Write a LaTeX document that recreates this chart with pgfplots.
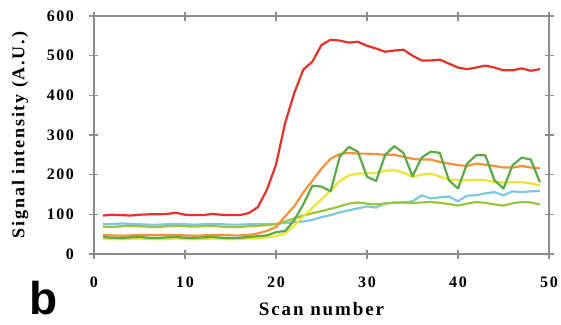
\documentclass[border=0pt]{standalone}
\usepackage{fontspec}
\setmainfont{Liberation Serif}
\newfontfamily\spaced[LetterSpace=10]{Liberation Serif}
\newfontfamily\arialb{Liberation Sans}
\usepackage{pgfplots}
\usepackage{pgfplotstable}
\pgfplotsset{compat=1.18}
\definecolor{cred}{HTML}{E6322A}
\definecolor{corange}{HTML}{F4923A}
\definecolor{cyellow}{HTML}{EEE434}
\definecolor{cdgreen}{HTML}{5BAA46}
\definecolor{colive}{HTML}{9BC53D}
\definecolor{ccyan}{HTML}{7CC8DC}
\definecolor{framec}{HTML}{8C8C8C}
\pgfplotstableread{
x red orange yellow dgreen olive cyan
1 97 48 38 43 69 76
2 99 47 37 41 68 75
3 98 46 37 40 70 77
4 97 47 38 42 71 76
5 99 48 39 43 70 75
6 100 48 38 41 69 74
7 100 47 37 40 68 74
8 101 48 38 42 70 75
9 104 48 39 43 71 76
10 99 47 38 41 70 75
11 98 46 37 40 69 74
12 98 47 38 42 70 75
13 101 48 39 43 71 76
14 99 48 38 41 69 75
15 98 47 37 40 68 74
16 98 47 38 41 68 74
17 103 48 39 43 70 75
18 118 52 40 45 71 75
19 162 58 42 47 73 75
20 225 68 45 55 75 76
21 330 95 52 58 82 78
22 405 120 72 85 90 80
23 465 155 95 125 97 82
24 485 185 116 172 103 86
25 527 215 138 170 108 93
26 540 240 160 158 114 98
27 538 252 184 245 120 105
28 533 255 198 270 127 110
29 535 253 203 258 130 115
30 525 253 203 195 127 120
31 518 252 205 184 125 117
32 510 250 210 250 127 128
33 513 250 211 272 129 130
34 515 245 205 255 130 130
35 500 240 195 196 128 133
36 488 238 200 243 130 148
37 488 238 203 258 131 140
38 490 232 195 255 129 143
39 480 228 188 186 126 145
40 470 224 186 165 122 133
41 466 222 186 228 127 147
42 470 228 187 249 131 148
43 475 225 186 249 129 153
44 470 222 182 186 125 156
45 463 218 180 165 122 148
46 463 218 181 224 128 158
47 468 222 181 243 131 156
48 462 218 178 238 130 158
49 466 216 173 181 125 159
}\datatable
\begin{document}
\begin{tikzpicture}
\begin{axis}[
  at={(0,0)}, anchor=south west,
  scale only axis, width=455pt, height=238pt,
  xmin=0, xmax=50, ymin=0, ymax=600,
  xtick={0,10,...,50}, ytick={0,100,...,600},
  axis line style={framec, line width=1.2pt},
  tick style={framec, line width=1.2pt},
  major tick length=9pt, tick align=center,
  /pgf/number format/assume math mode=true,
  ticklabel style={font=\fontsize{16}{16}\spaced\bfseries},
  xticklabel style={yshift=-15pt},
  yticklabel style={xshift=-12pt},
  xlabel={Scan number},
  ylabel={Signal intensity (A.U.)},
  xlabel style={font=\fontsize{19}{19}\spaced\bfseries, at={(axis description cs:0.5,-0.19)}, anchor=north},
  ylabel style={font=\fontsize{18}{18}\spaced\bfseries, at={(axis description cs:-0.1626,0.5)}, anchor=center},
  clip=false,
  every axis plot/.append style={line width=2.2pt, no markers, line join=round},
]
\addplot[ccyan] table[x=x, y=cyan] {\datatable};
\addplot[colive] table[x=x, y=olive] {\datatable};
\addplot[cyellow] table[x=x, y=yellow] {\datatable};
\addplot[corange] table[x=x, y=orange] {\datatable};
\addplot[cdgreen] table[x=x, y=dgreen] {\datatable};
\addplot[cred] table[x=x, y=red] {\datatable};
\node[font=\fontsize{46}{46}\arialb\bfseries, inner sep=0pt] at (axis description cs:-0.1114,-0.186) {b};
\end{axis}
\pgfresetboundingbox
\path (-94pt,-70pt) rectangle (467pt,254pt);
\end{tikzpicture}
\end{document}
